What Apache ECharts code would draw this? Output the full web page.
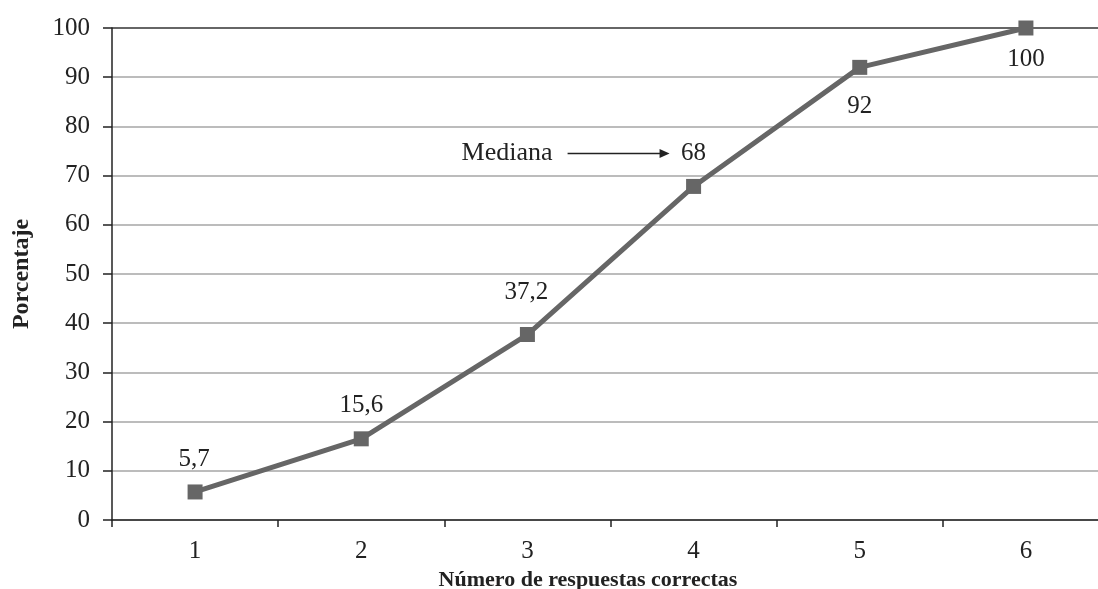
<!DOCTYPE html>
<html>
<head>
<meta charset="utf-8">
<script src="https://cdn.jsdelivr.net/npm/echarts@6/dist/echarts.min.js"></script>
<style>
html, body { margin: 0; padding: 0; background: #fff; overflow: hidden; }
#chart { width: 1112px; height: 589px; }
</style>
</head>
<body>
<div id="chart"></div>
<script>
var categories = ['1', '2', '3', '4', '5', '6'];
var values = [5.7, 16.5, 37.7, 67.8, 92, 100];
var labelTexts = ['5,7', '15,6', '37,2', '68', '92', '100'];
var labelOffsets = [[-1, -33], [0, -33], [-1, -42], [0, -33], [0, 39], [0, 31]];
var medianIndex = 3;

var serif = '"Liberation Serif", "Times New Roman", serif';
var lineColor = '#666666';

// the plot runs a little past the right edge of the picture, so the div is wider than the window
var chart = echarts.init(document.getElementById('chart'));

var seriesData = values.map(function (v, i) {
	return {
		value: v,
		label: {
			show: true,
			position: 'inside',
			offset: labelOffsets[i],
			formatter: labelTexts[i],
			color: '#222',
			fontFamily: serif,
			fontSize: 25
		}
	};
});

// top gridline (100) is darker than the rest
var splitColors = [];
for (var i = 0; i <= 10; i++) splitColors.push(i === 10 ? '#333' : '#a6a6a6');

var option = {
	animation: false,
	grid: { left: 112, top: 28, width: 997, height: 492, outerBoundsMode: 'none', containLabel: false },
	xAxis: {
		type: 'category',
		data: categories,
		boundaryGap: true,
		name: 'Número de respuestas correctas',
		nameLocation: 'middle',
		nameGap: 45,
		nameTextStyle: { fontFamily: serif, fontSize: 22, fontWeight: 'bold', color: '#222', padding: [0, 45, 0, 0] },
		axisLine: { lineStyle: { color: '#222', width: 1.5 } },
		axisTick: { show: true, length: 7, inside: false, lineStyle: { color: '#222', width: 1.5 } },
		axisLabel: { margin: 19, fontFamily: serif, fontSize: 25, color: '#222' },
		splitLine: { show: false }
	},
	yAxis: {
		type: 'value',
		min: 0,
		max: 100,
		interval: 10,
		name: 'Porcentaje',
		nameLocation: 'middle',
		nameGap: 78,
		nameTextStyle: { fontFamily: serif, fontSize: 24, fontWeight: 'bold', color: '#222' },
		axisLine: { show: true, lineStyle: { color: '#222', width: 1.5 } },
		axisTick: { show: true, length: 9, lineStyle: { color: '#222', width: 1.5 } },
		axisLabel: { margin: 22, fontFamily: serif, fontSize: 25, color: '#222' },
		splitLine: { show: true, lineStyle: { color: splitColors, width: 1.5 } }
	},
	series: [
		{
			type: 'line',
			data: seriesData,
			symbol: 'rect',
			symbolSize: 15,
			color: lineColor,
			lineStyle: { color: lineColor, width: 5 },
			itemStyle: { color: lineColor }
		}
	]
};

chart.setOption(option);

// "Mediana ->" annotation, anchored to the median point
var p = chart.convertToPixel({ seriesIndex: 0 }, [medianIndex, values[medianIndex]]);
var ay = p[1] + labelOffsets[medianIndex][1];
var ax = p[0] - 24;
chart.setOption({
	graphic: [
		{
			type: 'text',
			x: ax - 208, y: ay,
			style: { text: 'Mediana', fontFamily: serif, fontSize: 26, fill: '#222', textVerticalAlign: 'middle' }
		},
		{
			type: 'line',
			shape: { x1: ax - 102, y1: ay, x2: ax - 6, y2: ay },
			style: { stroke: '#222', lineWidth: 1.5 }
		},
		{
			type: 'polygon',
			shape: { points: [[ax - 10, ay - 4.5], [ax, ay], [ax - 10, ay + 4.5]] },
			style: { fill: '#222' }
		}
	]
});
</script>
</body>
</html>
